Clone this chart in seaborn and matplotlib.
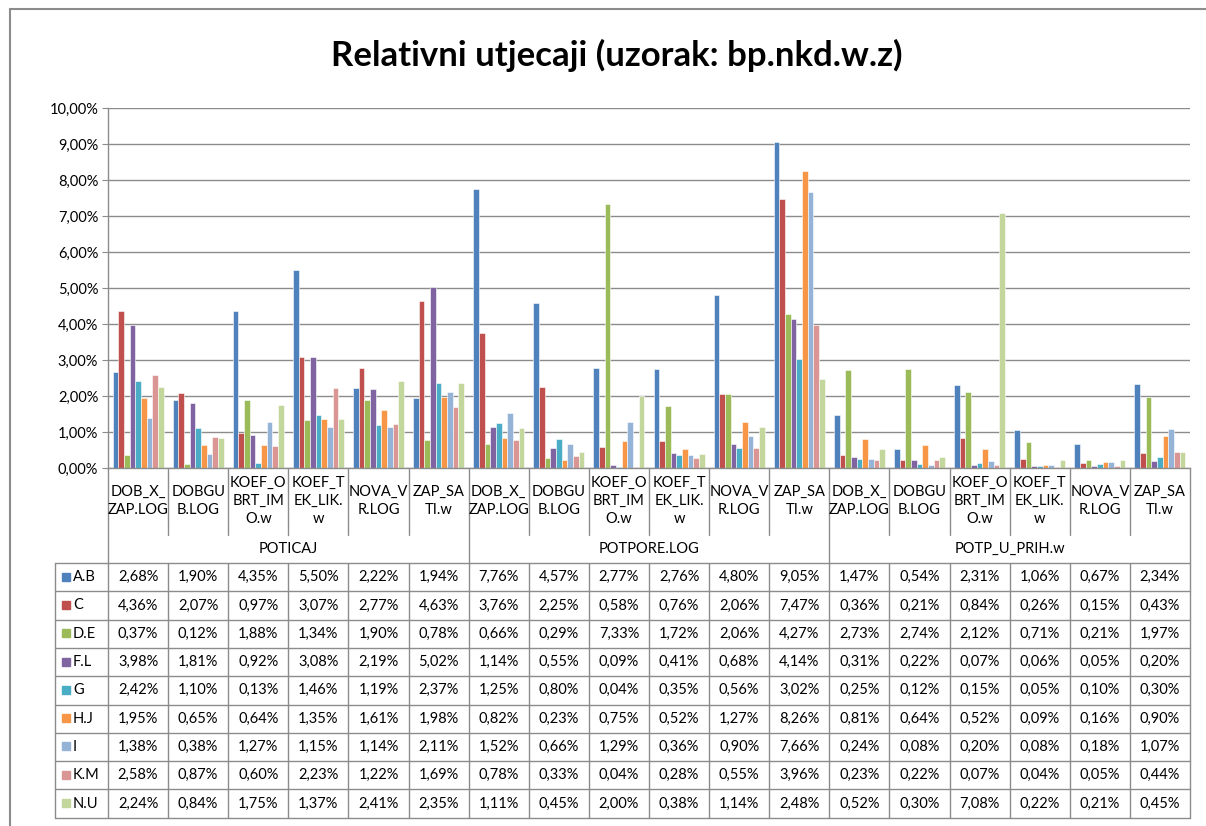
import matplotlib
matplotlib.use("Agg")
import matplotlib.pyplot as plt
import matplotlib.transforms as mtransforms
import pandas as pd
import seaborn as sns

# Data (values in percent)
groups = ["POTICAJ", "POTPORE.LOG", "POTP_U_PRIH.w"]
subcats = ["DOB_X_\nZAP.LOG", "DOBGU\nB.LOG", "KOEF_O\nBRT_IM\nO.w",
           "KOEF_T\nEK_LIK.\nw", "NOVA_V\nR.LOG", "ZAP_SA\nTI.w"]
series = ["A.B", "C", "D.E", "F.L", "G", "H.J", "I", "K.M", "N.U"]

a_b = [2.68, 1.90, 4.35, 5.50, 2.22, 1.94, 7.76, 4.57, 2.77, 2.76, 4.80, 9.05, 1.47, 0.54, 2.31, 1.06, 0.67, 2.34]
c = [4.36, 2.07, 0.97, 3.07, 2.77, 4.63, 3.76, 2.25, 0.58, 0.76, 2.06, 7.47, 0.36, 0.21, 0.84, 0.26, 0.15, 0.43]
d_e = [0.37, 0.12, 1.88, 1.34, 1.90, 0.78, 0.66, 0.29, 7.33, 1.72, 2.06, 4.27, 2.73, 2.74, 2.12, 0.71, 0.21, 1.97]
f_l = [3.98, 1.81, 0.92, 3.08, 2.19, 5.02, 1.14, 0.55, 0.09, 0.41, 0.68, 4.14, 0.31, 0.22, 0.07, 0.06, 0.05, 0.20]
g = [2.42, 1.10, 0.13, 1.46, 1.19, 2.37, 1.25, 0.80, 0.04, 0.35, 0.56, 3.02, 0.25, 0.12, 0.15, 0.05, 0.10, 0.30]
h_j = [1.95, 0.65, 0.64, 1.35, 1.61, 1.98, 0.82, 0.23, 0.75, 0.52, 1.27, 8.26, 0.81, 0.64, 0.52, 0.09, 0.16, 0.90]
i_ = [1.38, 0.38, 1.27, 1.15, 1.14, 2.11, 1.52, 0.66, 1.29, 0.36, 0.90, 7.66, 0.24, 0.08, 0.20, 0.08, 0.18, 1.07]
k_m = [2.58, 0.87, 0.60, 2.23, 1.22, 1.69, 0.78, 0.33, 0.04, 0.28, 0.55, 3.96, 0.23, 0.22, 0.07, 0.04, 0.05, 0.44]
n_u = [2.24, 0.84, 1.75, 1.37, 2.41, 2.35, 1.11, 0.45, 2.00, 0.38, 1.14, 2.48, 0.52, 0.30, 7.08, 0.22, 0.21, 0.45]

values = [a_b, c, d_e, f_l, g, h_j, i_, k_m, n_u]
colors = ["#4F81BD", "#C0504D", "#9BBB59", "#8064A2", "#4BACC6",
          "#F79646", "#95B3D7", "#D99694", "#C3D69B"]

grey = "#8C8C8C"

# Long table for seaborn
keys = [f"{gr}|{sc}" for gr in groups for sc in subcats]
rows = []
for s, vals in zip(series, values):
    for k, v in zip(keys, vals):
        rows.append({"key": k, "series": s, "value": v})
df = pd.DataFrame(rows)

sns.set_style("white")
plt.rcParams["font.family"] = ["Lato", "DejaVu Sans"]
plt.rcParams["text.color"] = "black"
plt.rcParams["ytick.labelcolor"] = "black"

W, H = 1206, 826
fig = plt.figure(figsize=(W / 100, H / 100), dpi=100)

# overlay in pixel coordinates (y downward)
ov = fig.add_axes([0, 0, 1, 1])
ov.set_xlim(0, W)
ov.set_ylim(H, 0)
ov.axis("off")

ax = fig.add_axes([108 / W, 1 - 468 / H, 1082 / W, 360 / H])
sns.barplot(data=df, x="key", y="value", hue="series", order=keys,
            hue_order=series, palette=colors, width=0.85, saturation=1,
            edgecolor="white", linewidth=0.4, legend=False, ax=ax)
ax.set_xlim(-0.5, len(keys) - 0.5)
ax.set_ylim(0, 10)
ax.set_yticks(range(0, 11))
ax.set_yticklabels([f"{v:.2f}%".replace(".", ",") for v in range(0, 11)], fontsize=10.5)
ax.set_xticks([])
ax.set_xlabel("")
ax.set_ylabel("")
ax.grid(axis="y", color=grey, linewidth=1)
ax.set_axisbelow(True)
for side in ["top", "right"]:
    ax.spines[side].set_visible(False)
for side in ["left", "bottom"]:
    ax.spines[side].set_color(grey)
    ax.spines[side].set_linewidth(1)
ax.tick_params(axis="y", length=4, color=grey, pad=3, left=True)

# blended: x in category units, y in pixels
tr = mtransforms.blended_transform_factory(ax.transData, ov.transData)

n = len(keys)
row_top = 563
row_h = 28.3
table_bot = row_top + row_h * len(series)
leg_left = -0.5 - (108 - 55) / (1082 / n)

# category separators
for b in range(n + 1):
    x = b - 0.5
    if b % 6 == 0:
        ov.plot([x, x], [468, table_bot], color=grey, lw=1, transform=tr, clip_on=False)
    else:
        ov.plot([x, x], [468, 535], color=grey, lw=1, transform=tr, clip_on=False)
        ov.plot([x, x], [row_top, table_bot], color=grey, lw=1, transform=tr, clip_on=False)
ov.plot([leg_left, leg_left], [row_top, table_bot], color=grey, lw=1, transform=tr, clip_on=False)
for r in range(len(series) + 1):
    y = row_top + r * row_h
    ov.plot([leg_left, n - 0.5], [y, y], color=grey, lw=1, transform=tr, clip_on=False)

# category labels
for idx, k in enumerate(keys):
    sc = k.split("|")[1]
    ov.text(idx, 501, sc, transform=tr, ha="center", va="center",
            fontsize=10.5, linespacing=1.35)
for gi, gr in enumerate(groups):
    ov.text(gi * 6 + 2.5, 549, gr, transform=tr, ha="center", va="center", fontsize=10.5)

# data table
for r, (s, col, vals) in enumerate(zip(series, colors, values)):
    yc = row_top + (r + 0.5) * row_h
    ov.add_patch(plt.Rectangle((62, yc - 4.5), 8, 8, color=col, clip_on=False))
    ov.text(73, yc, s, ha="left", va="center", fontsize=10.5)
    for idx, v in enumerate(vals):
        ov.text(idx, yc, f"{v:.2f}%".replace(".", ","), transform=tr,
                ha="center", va="center", fontsize=10.5)

# outer frame
ov.plot([10, 10], [9, H], color=grey, lw=1.5, clip_on=False)
ov.plot([10, W], [9, 9], color=grey, lw=1.5, clip_on=False)

# title
ov.text(617, 55, "Relativni utjecaji (uzorak: bp.nkd.w.z)", ha="center", va="center",
        fontsize=25, fontweight="bold")

fig.savefig("out.png", dpi=100)
